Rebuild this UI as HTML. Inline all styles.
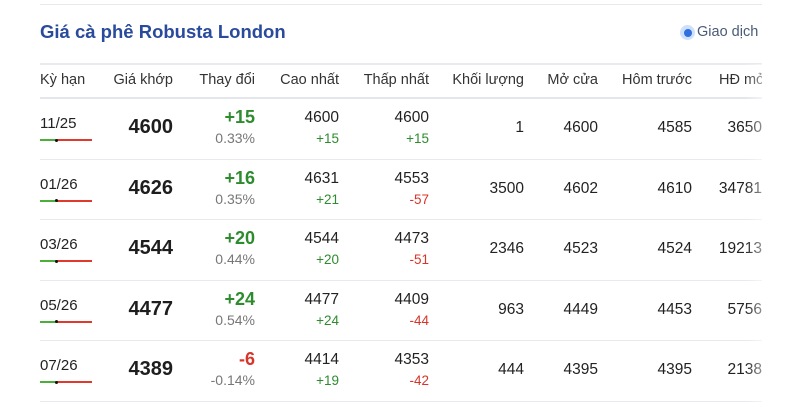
<!DOCTYPE html>
<html><head><meta charset="utf-8"><style>
*{margin:0;padding:0;box-sizing:border-box}
body{width:800px;height:412px;background:#fff;font-family:"Liberation Sans",Arial,sans-serif;color:#222;position:relative;overflow:hidden}
.a{position:absolute;white-space:nowrap}
.hl{position:absolute;left:40px;width:722px;height:1px;background:#e6e9ee}
.title{left:40px;top:21px;font-size:18.5px;font-weight:bold;color:#2a4a9c}
.h{top:72px;font-size:14.5px;color:#333}
.r{text-align:right}
.g{color:#2e8b2e}.red{color:#d8352a}.gr{color:#777}
.bar{position:absolute;left:40px;width:52px;height:2px;background:#e03a2e}
.bar:before{content:"";position:absolute;left:0;top:0;width:16px;height:2px;background:#4caf3a}
.bar:after{content:"";position:absolute;left:15px;top:-0.5px;width:3px;height:3px;background:#111;border-radius:50%}
.fade{position:absolute;left:745px;top:98px;width:20px;height:305px;background:linear-gradient(to right,rgba(255,255,255,0),rgba(255,255,255,0.6))}
</style></head><body>
<div class="hl" style="top:4px"></div>
<div class="a title">Giá cà phê Robusta London</div>
<div class="a" style="left:680px;top:25px;width:15px;height:15px;border-radius:50%;background:#cfe0fb"></div>
<div class="a" style="left:683.5px;top:28.5px;width:8px;height:8px;border-radius:50%;background:#2f6fe0"></div>
<div class="a" style="left:697px;top:24px;font-size:14.5px;color:#4a5a78">Giao dịch</div>
<div class="hl" style="top:63px;height:2px;background:#e8ebef"></div>
<div class="a h" style="left:40px">Kỳ hạn</div>
<div class="a h r" style="right:627px">Giá khớp</div>
<div class="a h r" style="right:545px">Thay đổi</div>
<div class="a h r" style="right:461px">Cao nhất</div>
<div class="a h r" style="right:371px">Thấp nhất</div>
<div class="a h r" style="right:276px">Khối lượng</div>
<div class="a h r" style="right:202px">Mở cửa</div>
<div class="a h r" style="right:108px">Hôm trước</div>
<div class="a h" style="left:719px;width:43px;overflow:hidden">HĐ mở</div>
<div class="hl" style="top:97px;height:2px;background:#e3e6eb"></div>
<div id="rows"></div>
<div class="fade" style="top:64px;height:34px"></div>
<div class="fade"></div>
<script>
var d=[["11/25","4600","+15","0.33%","4600","+15","4600","+15","1","4600","4585","3650"],
["01/26","4626","+16","0.35%","4631","+21","4553","-57","3500","4602","4610","34781"],
["03/26","4544","+20","0.44%","4544","+20","4473","-51","2346","4523","4524","19213"],
["05/26","4477","+24","0.54%","4477","+24","4409","-44","963","4449","4453","5756"],
["07/26","4389","-6","-0.14%","4414","+19","4353","-42","444","4395","4395","2138"]];
var h="";
d.forEach(function(r,i){var t=98+60.6*i;
function c(v){return v[0]=="-"?"red":"g"}
h+='<div class="a" style="left:40px;top:'+(t+17)+'px;font-size:15px">'+r[0]+'</div>';
h+='<div class="bar" style="top:'+(t+41)+'px"></div>';
h+='<div class="a r" style="right:627px;top:'+(t+18)+'px;font-size:20px;font-weight:bold;color:#1e1e1e">'+r[1]+'</div>';
h+='<div class="a r '+c(r[2])+'" style="right:545px;top:'+(t+9)+'px;font-size:18px;font-weight:bold">'+r[2]+'</div>';
h+='<div class="a r gr" style="right:545px;top:'+(t+32)+'px;font-size:14px">'+r[3]+'</div>';
h+='<div class="a r" style="right:461px;top:'+(t+11)+'px;font-size:15.5px">'+r[4]+'</div>';
h+='<div class="a r '+c(r[5])+'" style="right:461px;top:'+(t+33)+'px;font-size:13.5px">'+r[5]+'</div>';
h+='<div class="a r" style="right:371px;top:'+(t+11)+'px;font-size:15.5px">'+r[6]+'</div>';
h+='<div class="a r '+c(r[7])+'" style="right:371px;top:'+(t+33)+'px;font-size:13.5px">'+r[7]+'</div>';
h+='<div class="a r" style="right:276px;top:'+(t+21)+'px;font-size:15.5px">'+r[8]+'</div>';
h+='<div class="a r" style="right:202px;top:'+(t+21)+'px;font-size:15.5px">'+r[9]+'</div>';
h+='<div class="a r" style="right:108px;top:'+(t+21)+'px;font-size:15.5px">'+r[10]+'</div>';
h+='<div class="a" style="left:712px;width:50px;overflow:hidden;text-align:right;top:'+(t+21)+'px;font-size:15.5px">'+r[11]+'</div>';
h+='<div class="hl" style="top:'+(t+60.6)+'px"></div>';
});
document.getElementById("rows").innerHTML=h;
</script>
</body></html>
